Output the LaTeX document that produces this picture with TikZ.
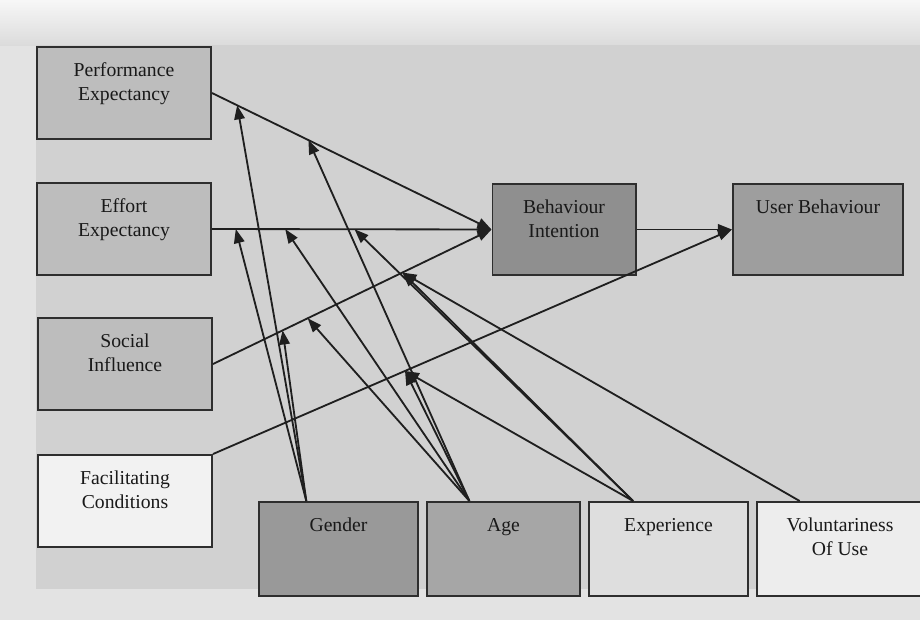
\documentclass[tikz,border=0pt]{standalone}
\usepackage{fontspec}
\setmainfont{Liberation Serif}
\usetikzlibrary{positioning,calc,arrows.meta}

\begin{document}
\begin{tikzpicture}[x=0.025cm, y=-0.025cm,
    box/.style={draw=black!82, line width=1.4pt, inner sep=0pt},
    lbox/.style={box, minimum width=4.35cm, minimum height=2.3cm},
    rowbox/.style={box, minimum height=2.35cm},
    txt/.style={anchor=north, align=center, inner sep=0pt, yshift=-0.42cm,
        text=black!90, font=\fontsize{14}{17}\selectfont},
    link/.style={line width=1.3pt, draw=black!88, -{Triangle[length=10pt,width=7.5pt]}}]

    % background
    \useasboundingbox (0,0) rectangle (920,620);
    \fill[black!11] (0,0) rectangle (920,620);
    \shade[top color=black!3, bottom color=black!14] (0,0) rectangle (920,45);
    \fill[black!18] (36,45) rectangle (920,589);

    % constructs
    \node[lbox, fill=black!26, label={[txt]north:{Performance\\Expectancy}}] (pe) at (124,93) {};
    \node[lbox, fill=black!26, label={[txt]north:{Effort\\Expectancy}}] (ee) at (124,229) {};
    \node[lbox, fill=black!26, label={[txt]north:{Social\\Influence}}] (si) at (125,364) {};
    \node[lbox, fill=black!5, label={[txt]north:{Facilitating\\Conditions}}] (fc) at (125,501) {};
    \node[box, fill=black!44, minimum width=3.575cm, minimum height=2.28cm,
        label={[txt]north:{Behaviour\\Intention}}] (bi) at (564,229.5) {};
    \node[box, fill=black!38, minimum width=4.25cm, minimum height=2.28cm,
        label={[txt]north:User Behaviour}] (ub) at (818,229.5) {};

    % moderators
    \node[rowbox, fill=black!40, minimum width=3.975cm, label={[txt]north:Gender}] (gender) at (338.5,549) {};
    \node[rowbox, fill=black!35, minimum width=3.825cm, label={[txt]north:Age}] (age) at (503.5,549) {};
    \node[rowbox, fill=black!13, minimum width=3.975cm, label={[txt]north:Experience}] (exp) at (668.5,549) {};
    \node[rowbox, fill=black!7, minimum width=4.15cm, label={[txt]north:{Voluntariness\\Of Use}}] (vol) at (840,549) {};

    % main paths
    \draw[link] (pe.east) -- coordinate[pos=.09] (pe1) coordinate[pos=.345] (pe2) (bi.west);
    \draw[link] (ee.east) -- coordinate[pos=.085] (ee1) coordinate[pos=.262] (ee2)
        coordinate[pos=.51] (ee3) (bi.west);
    \draw[link] (si.east) -- coordinate[pos=.25] (si1) coordinate[pos=.34] (si2)
        coordinate[pos=.68] (si3) (bi.west);
    \draw[link] (fc.north east) -- coordinate[pos=.37] (fc1) (ub.west);
    \draw[link] (bi.east) -- (ub.west);

    % moderating effects
    \coordinate (g) at ($(gender.north west)!.3!(gender.north east)$);
    \coordinate (a) at ($(age.north west)!.28!(age.north east)$);
    \coordinate (x) at ($(exp.north west)!.28!(exp.north east)$);
    \coordinate (v) at ($(vol.north west)!.26!(vol.north east)$);

    \foreach \t in {pe1,ee1,si1}
        \draw[link] (g) -- (\t);
    \foreach \t in {pe2,ee2,si2,fc1}
        \draw[link] (a) -- (\t);
    \foreach \t in {ee3,si3,fc1}
        \draw[link] (x) -- (\t);
    \draw[link] (v) -- (si3);
\end{tikzpicture}
\end{document}
